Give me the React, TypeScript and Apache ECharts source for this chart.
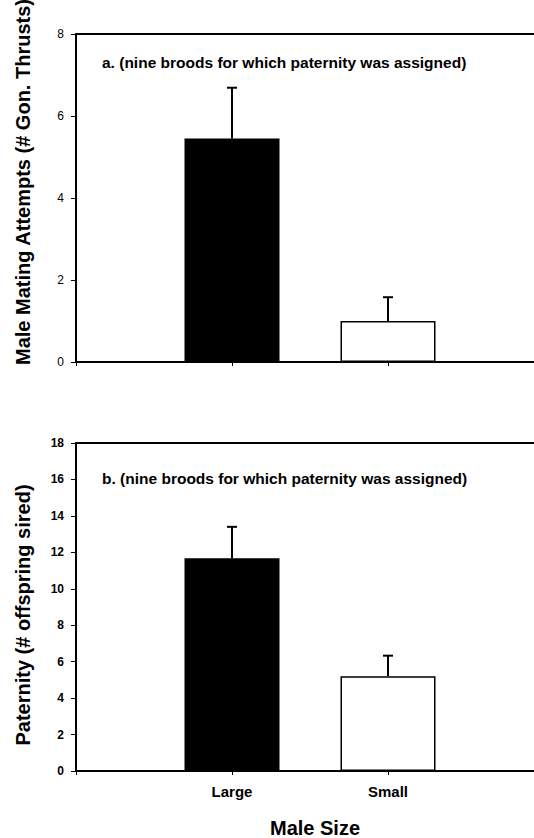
import React, { useEffect, useRef } from "react";
import * as echarts from "echarts";

const categories = ["", "Large", "Small", ""];
const attemptsMean = [5.45, 1.0];
const attemptsErr = [6.69, 1.58];
const paternityMean = [11.68, 5.2];
const paternityErr = [13.4, 6.33];
const attemptsTicks = { min: 0, max: 8, interval: 2 };
const paternityTicks = { min: 0, max: 18, interval: 2 };
const barColors = ["#000000", "#ffffff"];

const FONT = "'Liberation Sans', Arial, Helvetica, sans-serif";

function barData(means: number[]) {
  return [
    "-",
    ...means.map((v, i) => ({
      value: v,
      itemStyle: { color: barColors[i], borderColor: "#000", borderWidth: 1.5 },
    })),
    "-",
  ];
}

function errData(means: number[], tops: number[]) {
  return means.map((m, i) => [i + 1, m, tops[i]]);
}

function errRender(params: any, api: any) {
  const x = api.value(0);
  const lo = api.coord([x, api.value(1)]);
  const hi = api.coord([x, api.value(2)]);
  const cap = 5;
  return {
    type: "group",
    children: [
      {
        type: "line",
        shape: { x1: lo[0], y1: lo[1], x2: hi[0], y2: hi[1] },
        style: { stroke: "#000", lineWidth: 2 },
      },
      {
        type: "line",
        shape: { x1: hi[0] - cap, y1: hi[1], x2: hi[0] + cap, y2: hi[1] },
        style: { stroke: "#000", lineWidth: 2 },
      },
    ],
  };
}

export default function App() {
  const ref = useRef<HTMLDivElement>(null);
  useEffect(() => {
    if (!ref.current) return;
    const chart = echarts.init(ref.current, undefined, { renderer: "svg" });
    const xAxisBase = (showLabels: boolean, gridIndex: number) => ({
      type: "category",
      gridIndex,
      data: categories,
      boundaryGap: false,
      axisLine: { show: true, lineStyle: { color: "#000", width: 2 } },
      axisTick: { show: true, length: 4, lineStyle: { color: "#000", width: 1 } },
      axisLabel: {
        show: showLabels,
        interval: 0,
        margin: 13,
        color: "#000",
        fontFamily: FONT,
        fontWeight: "bold",
        fontSize: 15,
      },
      splitLine: { show: false },
    });
    const xAxisTop = (gridIndex: number) => ({
      type: "category",
      gridIndex,
      position: "top",
      data: categories,
      boundaryGap: false,
      axisLine: { show: true, lineStyle: { color: "#000", width: 2 } },
      axisTick: { show: false },
      axisLabel: { show: false },
      splitLine: { show: false },
    });
    const yAxisBase = (t: any, gridIndex: number, bold: boolean) => ({
      type: "value",
      gridIndex,
      min: t.min,
      max: t.max,
      interval: t.interval,
      axisLine: { show: true, lineStyle: { color: "#000", width: 2 } },
      axisTick: { show: true, length: 5, lineStyle: { color: "#000", width: 1 } },
      axisLabel: {
        margin: 12,
        color: "#000",
        fontFamily: FONT,
        fontWeight: bold ? "bold" : "normal",
        fontSize: 12,
      },
      splitLine: { show: false },
    });
    chart.setOption({
      animation: false,
      backgroundColor: "#fff",
      grid: [
        { left: 76, top: 34, width: 468, height: 328 },
        { left: 76, top: 443, width: 468, height: 328 },
      ],
      xAxis: [xAxisBase(false, 0), xAxisBase(true, 1), xAxisTop(0), xAxisTop(1)],
      yAxis: [yAxisBase(attemptsTicks, 0, false), yAxisBase(paternityTicks, 1, true)],
      series: [
        {
          type: "bar",
          xAxisIndex: 0,
          yAxisIndex: 0,
          barWidth: 95,
          data: barData(attemptsMean),
        },
        {
          type: "custom",
          xAxisIndex: 0,
          yAxisIndex: 0,
          renderItem: errRender,
          data: errData(attemptsMean, attemptsErr),
          z: 3,
        },
        {
          type: "bar",
          xAxisIndex: 1,
          yAxisIndex: 1,
          barWidth: 95,
          data: barData(paternityMean),
        },
        {
          type: "custom",
          xAxisIndex: 1,
          yAxisIndex: 1,
          renderItem: errRender,
          data: errData(paternityMean, paternityErr),
          z: 3,
        },
      ],
      graphic: [
        {
          type: "text",
          left: 102,
          top: 54,
          style: {
            text: "a. (nine broods for which paternity was assigned)",
            font: `bold 15.5px ${FONT}`,
            fill: "#000",
          },
        },
        {
          type: "text",
          left: 102,
          top: 470,
          style: {
            text: "b. (nine broods for which paternity was assigned)",
            font: `bold 15.5px ${FONT}`,
            fill: "#000",
          },
        },
        {
          type: "text",
          x: 23,
          y: 182,
          rotation: Math.PI / 2,
          style: {
            text: "Male Mating Attempts (# Gon. Thrusts)",
            font: `bold 20px ${FONT}`,
            fill: "#000",
            align: "center",
            verticalAlign: "middle",
          },
        },
        {
          type: "text",
          x: 23,
          y: 615,
          rotation: Math.PI / 2,
          style: {
            text: "Paternity (# offspring sired)",
            font: `bold 20px ${FONT}`,
            fill: "#000",
            align: "center",
            verticalAlign: "middle",
          },
        },
        {
          type: "text",
          x: 315,
          y: 828,
          style: {
            text: "Male Size",
            font: `bold 20px ${FONT}`,
            fill: "#000",
            align: "center",
            verticalAlign: "middle",
          },
        },
      ],
    });
    return () => chart.dispose();
  }, []);
  return (
    <div style={{ position: "absolute", left: 0, top: 0, width: 534, height: 838, overflow: "hidden" }}>
      <div ref={ref} style={{ width: 560, height: 838 }} />
    </div>
  );
}
